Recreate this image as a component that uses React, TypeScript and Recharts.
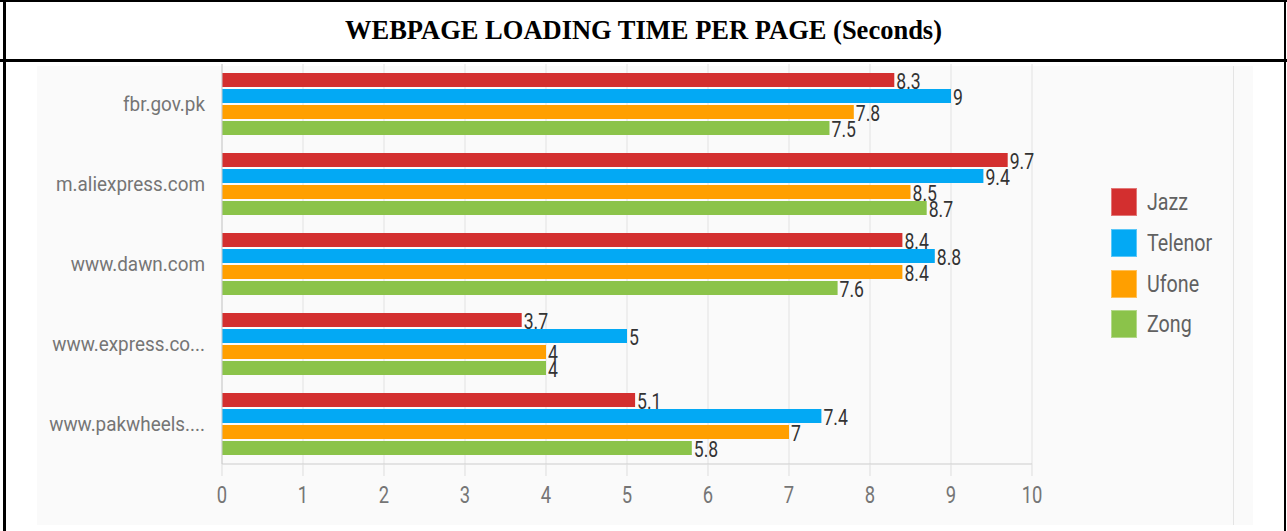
import React from "react";
import {
  BarChart,
  Bar,
  XAxis,
  YAxis,
  CartesianGrid,
  LabelList
} from "recharts";

// chart values
const SITES = [
  "fbr.gov.pk",
  "m.aliexpress.com",
  "www.dawn.com",
  "www.express.co...",
  "www.pakwheels...."
];
const JAZZ = [8.3, 9.7, 8.4, 3.7, 5.1];
const TELENOR = [9, 9.4, 8.8, 5, 7.4];
const UFONE = [7.8, 8.5, 8.4, 4, 7];
const ZONG = [7.5, 8.7, 7.6, 4, 5.8];
const X_TICKS = [0, 1, 2, 3, 4, 5, 6, 7, 8, 9, 10];

const SERIES = [
  { key: "jazz", name: "Jazz", color: "#d32f2f" },
  { key: "telenor", name: "Telenor", color: "#03a9f4" },
  { key: "ufone", name: "Ufone", color: "#ff9f00" },
  { key: "zong", name: "Zong", color: "#8bc34a" }
];

const data = SITES.map((site, i) => ({
  site,
  jazz: JAZZ[i],
  telenor: TELENOR[i],
  ufone: UFONE[i],
  zong: ZONG[i]
}));

const FONT = "Roboto, 'Noto Sans', sans-serif";

// text squeezed horizontally, like the reference's narrow font
const NarrowText = ({ x, y, children, size, fill, anchor = "start", sx = 0.85 }: any) => (
  <text
    x={0}
    y={0}
    transform={`translate(${x},${y}) scale(${sx},1)`}
    textAnchor={anchor}
    dominantBaseline="central"
    fontFamily={FONT}
    fontSize={size}
    fill={fill}
  >
    {children}
  </text>
);

const SiteTick = ({ x, y, payload }: any) => (
  <NarrowText x={x} y={y} size={21} fill="#757575" anchor="end" sx={0.9}>
    {payload.value}
  </NarrowText>
);

const ValueTick = ({ x, y, payload }: any) => (
  <NarrowText x={x} y={y + 17} size={23} fill="#757575" anchor="middle" sx={0.8}>
    {payload.value}
  </NarrowText>
);

const BarValue = ({ x, y, width, height, value }: any) => (
  <NarrowText x={x + width + 2} y={y + height / 2 + 2} size={22} fill="#333" sx={0.8}>
    {value}
  </NarrowText>
);

// legend drawn beside the chart so it doesn't eat into the plot area
const SeriesLegend = () => (
  <div style={{ position: "absolute", left: 1111, top: 182 }}>
    {SERIES.map((s) => (
      <div key={s.key} style={{ display: "flex", alignItems: "center", height: 40.7 }}>
        <div
          style={{
            width: 26,
            height: 28,
            background: s.color,
            boxShadow: "inset 0 0 0 1px rgba(255,255,255,0.35)"
          }}
        />
        <svg width={90} height={34} style={{ marginLeft: 10 }}>
          <NarrowText x={0} y={17} size={24} fill="#616161" sx={0.82}>
            {s.name}
          </NarrowText>
        </svg>
      </div>
    ))}
  </div>
);

export default function App() {
  return (
    <div
      style={{
        position: "absolute",
        left: 0,
        top: 0,
        width: 1287,
        height: 531,
        background: "#fff",
        overflow: "hidden"
      }}
    >
      {/* table frame */}
      <div style={{ position: "absolute", left: 0, top: 0, width: 1287, height: 2, background: "#000" }} />
      <div style={{ position: "absolute", left: 3, top: 0, width: 3, height: 531, background: "#000" }} />
      <div style={{ position: "absolute", left: 1284, top: 0, width: 2, height: 531, background: "#000" }} />
      <div style={{ position: "absolute", left: 0, top: 59, width: 1287, height: 3, background: "#000" }} />
      <div
        style={{
          position: "absolute",
          left: 0,
          top: 2,
          width: 1287,
          height: 57,
          display: "flex",
          alignItems: "center",
          justifyContent: "center",
          fontFamily: "'Liberation Serif', serif",
          fontWeight: 700,
          fontSize: 26.5,
          color: "#000"
        }}
      >
        WEBPAGE LOADING TIME PER PAGE (Seconds)
      </div>

      {/* chart background */}
      <div style={{ position: "absolute", left: 37, top: 66, width: 1216, height: 459, background: "#fafafa" }} />
      <div style={{ position: "absolute", left: 1233, top: 66, width: 1, height: 459, background: "#e4e4e4" }} />

      <div style={{ position: "absolute", left: 0, top: 0 }}>
        <BarChart
          width={1287}
          height={531}
          data={data}
          layout="vertical"
          margin={{ top: 64, right: 255, bottom: 27, left: 0 }}
          barSize={14}
          barGap={2}
          barCategoryGap={9}
        >
          <CartesianGrid horizontal={false} stroke="#e2e2e2" />
          <XAxis
            type="number"
            domain={[0, 10]}
            ticks={X_TICKS}
            height={40}
            tickSize={12}
            tickLine={{ stroke: "#dddddd" }}
            axisLine={{ stroke: "#cccccc" }}
            tick={<ValueTick />}
            interval={0}
          />
          <YAxis
            type="category"
            dataKey="site"
            width={222}
            tickLine={false}
            tickSize={0}
            tickMargin={17}
            axisLine={{ stroke: "#cccccc" }}
            tick={<SiteTick />}
            interval={0}
          />
          {SERIES.map((s) => (
            <Bar key={s.key} dataKey={s.key} name={s.name} fill={s.color} isAnimationActive={false}>
              <LabelList dataKey={s.key} content={<BarValue />} />
            </Bar>
          ))}
        </BarChart>
      </div>
      <SeriesLegend />
    </div>
  );
}
